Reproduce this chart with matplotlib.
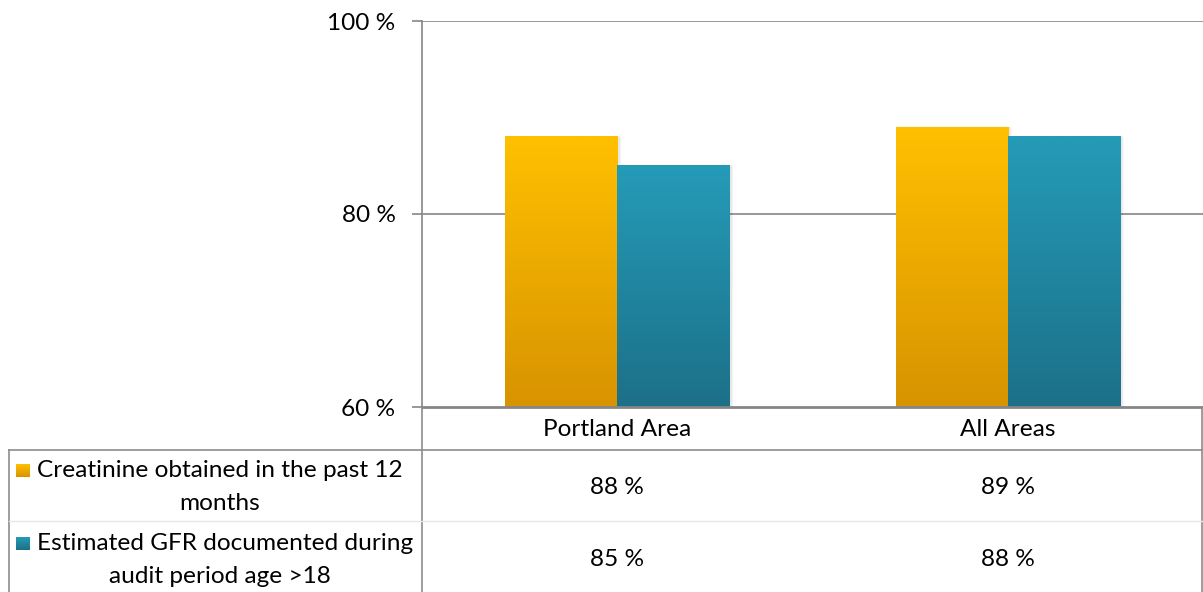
import numpy as np
import matplotlib
matplotlib.use("Agg")
import matplotlib.pyplot as plt
from matplotlib.colors import LinearSegmentedColormap
from matplotlib.patches import Rectangle

categories = ["Portland Area", "All Areas"]
series_names = ["Creatinine obtained in the past 12\nmonths",
                "Estimated GFR documented during\naudit period age >18"]
creatinine = [88, 89]
egfr = [85, 88]
yticks = [60, 80, 100]
ytick_labels = ["60 %", "80 %", "100 %"]

W, H = 1203, 592
FONT = "Lato"
plt.rcParams['font.family'] = [FONT, 'DejaVu Sans']
FS = 17.6

fig = plt.figure(figsize=(W / 100, H / 100), dpi=100)

def fx(px):
    return px / W

def fy(py):
    return 1 - py / H

ax_l, ax_r, ax_t, ax_b = 422, 1203, 21, 407
ax = fig.add_axes([fx(ax_l), fy(ax_b), fx(ax_r - ax_l), fy(ax_t) - fy(ax_b)])

grid_c = "#868686"
orange_top, orange_bot = "#FFC000", "#D89300"
teal_top, teal_bot = "#259BB8", "#1C7088"
cmaps = [LinearSegmentedColormap.from_list("o", [orange_bot, orange_top]),
         LinearSegmentedColormap.from_list("t", [teal_bot, teal_top])]
grad = np.linspace(0, 1, 256).reshape(-1, 1)

bw = 0.287
x = np.arange(len(categories))
ymin, ymax = 60, 100
px_x = 1.0 / 390.5   # one pixel in x data units
px_y = 40.0 / 386    # one pixel in y data units
for si, vals in enumerate([creatinine, egfr]):
    off = (si - 0.5) * bw
    for xi, v in zip(x, vals):
        x0, x1 = xi + off - bw / 2, xi + off + bw / 2
        # soft shadow (layered)
        for k in range(1, 5):
            ax.add_patch(Rectangle((x0 - k * px_x * 0.5 + 2 * px_x, ymin),
                                   bw + k * px_x, v - ymin + (k * 0.5 - 1) * px_y,
                                   facecolor="#000000", alpha=0.025, zorder=2,
                                   edgecolor="none"))
        ax.imshow(grad, extent=[x0, x1, ymin, v], origin="lower",
                  aspect="auto", cmap=cmaps[si], zorder=3,
                  interpolation="bilinear")

ax.set_xlim(-0.5, len(categories) - 0.5)
ax.set_ylim(ymin, ymax)
ax.set_yticks(yticks)
ax.set_yticklabels(ytick_labels, fontsize=FS)
ax.set_xticks([])
for yv in yticks[1:]:
    ax.axhline(yv, color=grid_c, lw=1.2, zorder=1)
for s in ["top", "right"]:
    ax.spines[s].set_visible(False)
ax.spines["left"].set_color(grid_c)
ax.spines["bottom"].set_color(grid_c)
ax.spines["left"].set_linewidth(1.2)
ax.spines["bottom"].set_linewidth(2)
ax.spines["bottom"].set_zorder(4)
ax.tick_params(axis="y", length=7, color=grid_c, width=1.2, pad=12)

# Data table in pixel coordinates
ov = fig.add_axes([0, 0, 1, 1])
ov.set_xlim(0, W)
ov.set_ylim(H, 0)
ov.axis("off")
ov.patch.set_alpha(0)

lc = "#8c8c8c"
ov.plot([422, 422], [407, H], color=lc, lw=1.2)
ov.plot([1202, 1202], [407, H], color=lc, lw=1.2)
ov.plot([9, 9], [450, H], color=lc, lw=1.2)
ov.plot([9, 1202], [450, 450], color=lc, lw=1.2)
ov.plot([9, 1202], [521, 521], color="#e6e6e6", lw=1.0)

centers = [617, 1008]
for c, name in zip(centers, categories):
    ov.text(c, 429, name, ha="center", va="center", fontsize=FS)

row_y = [487, 560]
for ri, vals in enumerate([creatinine, egfr]):
    for c, v in zip(centers, vals):
        ov.text(c, row_y[ri], f"{v} %", ha="center", va="center", fontsize=FS)

squares = [(16, 464), (16, 537)]
baselines = [(477, 510), (550, 583)]
for ri, name in enumerate(series_names):
    l1, l2 = name.split("\n")
    sx, sy = squares[ri]
    ov.imshow(grad[::-1], extent=[sx, sx + 14, sy + 13, sy], cmap=cmaps[ri],
              aspect="auto", zorder=3, interpolation="bilinear")
    ov.text(37, baselines[ri][0], l1, ha="left", va="baseline", fontsize=FS)
    ov.text(220, baselines[ri][1], l2, ha="center", va="baseline", fontsize=FS)

ov.set_xlim(0, W)
ov.set_ylim(H, 0)

fig.savefig("out.png", dpi=100)
